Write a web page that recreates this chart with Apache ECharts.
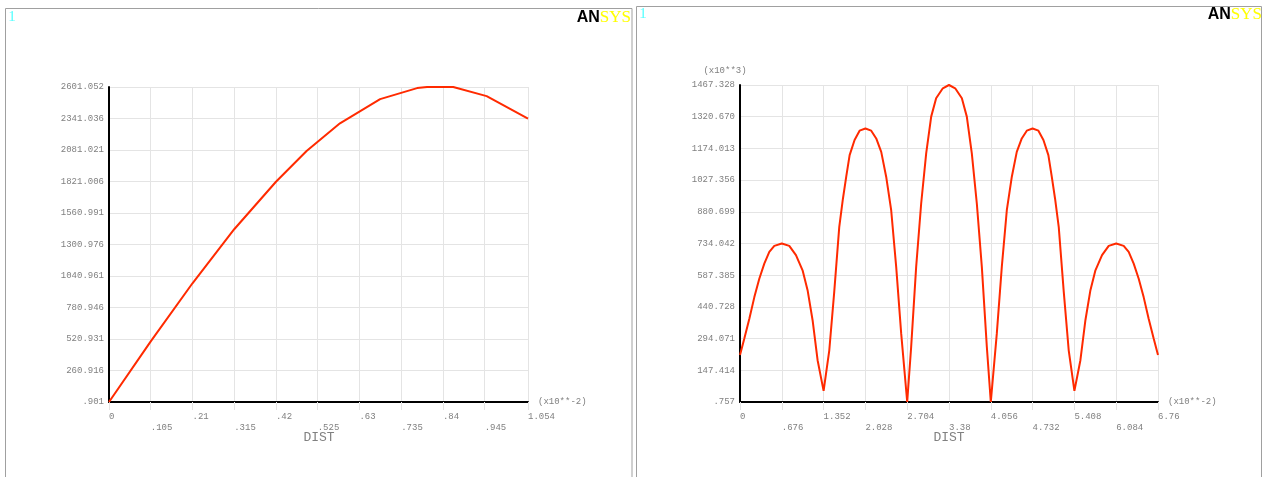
<!DOCTYPE html>
<html><head><meta charset="utf-8">
<script src="https://cdn.jsdelivr.net/npm/echarts@6/dist/echarts.min.js"></script>
<style>html,body{margin:0;padding:0;background:#fff}#c{width:1264px;height:477px}</style>
</head><body><div id="c"></div>
<script>
// ---- left chart data (DIST in x10**-2) ----
const leftDist = [0, 0.105, 0.21, 0.315, 0.42, 0.497, 0.581, 0.682, 0.775, 0.80, 0.866, 0.95, 1.054];
const leftVal  = [0.901, 501, 981, 1427, 1819, 2073, 2301, 2501, 2592, 2601, 2601, 2526, 2341];
const leftXTicks = ['0', '.105', '.21', '.315', '.42', '.525', '.63', '.735', '.84', '.945', '1.054'];
const leftYTicks = ['.901', '260.916', '520.931', '780.946', '1040.961', '1300.976', '1560.991', '1821.006', '2081.021', '2341.036', '2601.052'];

// ---- right chart data (DIST in x10**-2, value in x10**3) ----
const rightDist = [0, 0.07, 0.151, 0.232, 0.312, 0.393, 0.474, 0.555, 0.676, 0.797, 0.905, 1.012, 1.093, 1.174, 1.255, 1.352,
  1.444, 1.524, 1.605, 1.664, 1.718, 1.773, 1.853, 1.934, 2.028, 2.122, 2.203, 2.284, 2.364, 2.445, 2.526, 2.607, 2.704,
  2.768, 2.849, 2.930, 3.011, 3.092, 3.172, 3.28, 3.38,
  3.48, 3.588, 3.668, 3.749, 3.83, 3.911, 3.992, 4.056, 4.153, 4.234, 4.315, 4.396, 4.476, 4.557, 4.638, 4.732,
  4.826, 4.907, 4.987, 5.042, 5.096, 5.155, 5.236, 5.316, 5.408, 5.505, 5.586, 5.667, 5.748, 5.855, 5.963, 6.084,
  6.205, 6.286, 6.367, 6.448, 6.528, 6.609, 6.69, 6.76];
const rightVal = [218, 294, 386, 486, 571, 641, 695, 723, 734, 723, 680, 610, 518, 379, 194, 52,
  240, 510, 810, 940, 1043, 1143, 1213, 1256, 1266, 1256, 1220, 1158, 1043, 888, 626, 317, 0.757,
  255, 626, 919, 1151, 1321, 1406, 1452, 1467.328,
  1452, 1406, 1321, 1151, 919, 626, 255, 0.757, 317, 626, 888, 1043, 1158, 1220, 1256, 1266,
  1256, 1213, 1143, 1043, 940, 810, 510, 240, 52, 194, 379, 518, 610, 680, 723, 734,
  723, 695, 641, 571, 486, 386, 294, 218];
const rightXTicks = ['0', '.676', '1.352', '2.028', '2.704', '3.38', '4.056', '4.732', '5.408', '6.084', '6.76'];
const rightYTicks = ['.757', '147.414', '294.071', '440.728', '587.385', '734.042', '880.699', '1027.356', '1174.013', '1320.670', '1467.328'];

const LABEL = '#808080';
const GRID = '#e4e4e4';
const MONO = 'Liberation Mono';

function fmt(labels, alternate) {
  const vals = labels.map(parseFloat);
  return function (v) {
    let best = 0, bd = Infinity;
    vals.forEach((t, i) => { const d = Math.abs(t - v); if (d < bd) { bd = d; best = i; } });
    return (alternate && best % 2) ? '\n' + labels[best] : labels[best];
  };
}
function xAxis(gi, labels) {
  const vals = labels.map(parseFloat);
  return {
    type: 'value', gridIndex: gi, min: vals[0], max: vals[vals.length - 1],
    axisLine: { show: true, onZero: false, lineStyle: { color: '#000', width: 2 } },
    axisTick: { show: true, length: 8, customValues: vals, lineStyle: { color: GRID, width: 1 } },
    axisLabel: { customValues: vals, formatter: fmt(labels, true), align: 'left', margin: 9,
      color: LABEL, fontFamily: MONO, fontSize: 9, lineHeight: 11, hideOverlap: false },
    splitLine: { show: true, lineStyle: { color: GRID, width: 1 } },
    name: '(x10**-2)', nameLocation: 'end', nameGap: 10,
    nameTextStyle: { color: LABEL, fontFamily: MONO, fontSize: 9, padding: [0, 0, 6, 0] }
  };
}
function yAxis(gi, labels) {
  const vals = labels.map(parseFloat);
  return {
    type: 'value', gridIndex: gi, min: vals[0], max: vals[vals.length - 1],
    axisLine: { show: true, onZero: false, lineStyle: { color: '#000', width: 2 } },
    axisTick: { show: false, customValues: vals },
    axisLabel: { customValues: vals, formatter: fmt(labels, false), margin: 5,
      color: LABEL, fontFamily: MONO, fontSize: 9, hideOverlap: false },
    splitLine: { show: true, lineStyle: { color: GRID, width: 1 } }
  };
}
function logo(x, y) {
  return { type: 'text', x: x, y: y, style: {
    text: '{a|AN}{s|SYS}', align: 'right', verticalAlign: 'top',
    rich: {
      a: { fontFamily: 'Liberation Sans', fontWeight: 'bold', fontSize: 16, fill: '#000' },
      s: { fontFamily: 'Liberation Serif', fontSize: 17, fill: '#ffff00' }
    } } };
}
function txt(text, x, y, size, color, family, align) {
  return { type: 'text', x: x, y: y, style: { text: text, fill: color, fontFamily: family, fontSize: size,
    align: align || 'center', verticalAlign: 'middle' } };
}

const chart = echarts.init(document.getElementById('c'), null, { renderer: 'canvas' });
chart.setOption({
  animation: false,
  backgroundColor: '#fff',
  grid: [
    { left: 109, top: 87, width: 419, height: 315 },
    { left: 740, top: 85, width: 418, height: 317 }
  ],
  xAxis: [xAxis(0, leftXTicks), xAxis(1, rightXTicks)],
  yAxis: [yAxis(0, leftYTicks), yAxis(1, rightYTicks)],
  series: [
    { type: 'line', xAxisIndex: 0, yAxisIndex: 0, showSymbol: false, symbol: 'none',
      lineStyle: { color: '#ff2a00', width: 2 }, data: leftDist.map((d, i) => [d, leftVal[i]]) },
    { type: 'line', xAxisIndex: 1, yAxisIndex: 1, showSymbol: false, symbol: 'none',
      lineStyle: { color: '#ff2a00', width: 2 }, data: rightDist.map((d, i) => [d, rightVal[i]]) }
  ],
  graphic: [
    { type: 'rect', shape: { x: 5.5, y: 8.5, width: 626.5, height: 480 }, style: { fill: 'none', stroke: '#a0a0a0', lineWidth: 1 } },
    { type: 'rect', shape: { x: 636.5, y: 6.5, width: 625, height: 480 }, style: { fill: 'none', stroke: '#a0a0a0', lineWidth: 1 } },
    txt('1', 12, 17, 15, '#55ffff', 'Liberation Serif'),
    txt('1', 643, 14, 15, '#55ffff', 'Liberation Serif'),
    logo(631, 9),
    logo(1262, 6),
    txt('DIST', 319, 438, 13, LABEL, MONO),
    txt('DIST', 949, 438, 13, LABEL, MONO),
    txt('(x10**3)', 725, 71, 9, LABEL, MONO)
  ]
});
</script>
</body></html>
